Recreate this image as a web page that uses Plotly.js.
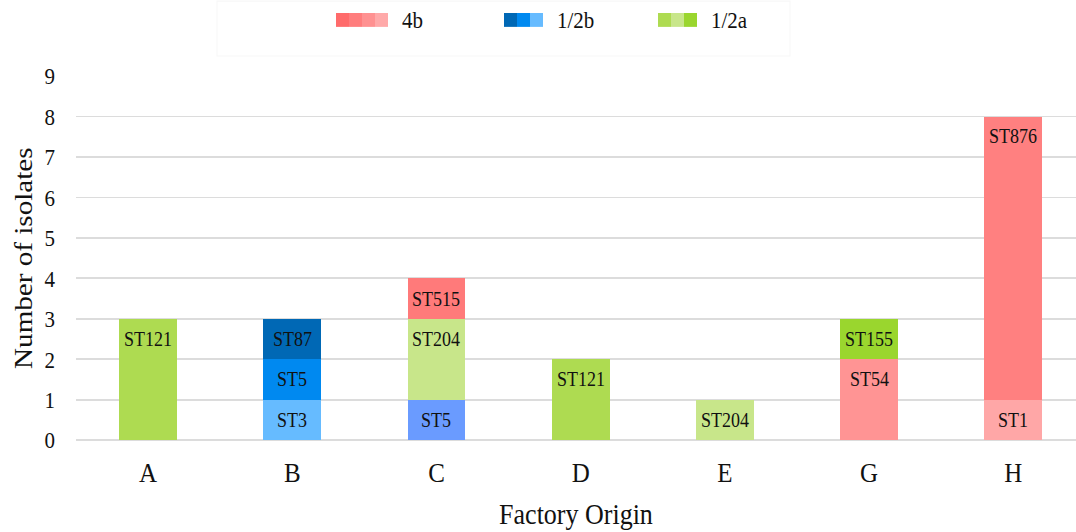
<!DOCTYPE html>
<html>
<head>
<meta charset="utf-8">
<script src="https://cdn.plot.ly/plotly-3.0.1.min.js"></script>
<style>
  html, body { margin: 0; padding: 0; background: #fff; }
  #wrap { width: 1076px; height: 532px; overflow: hidden; }
  /* the chart is laid out a little shorter and stretched vertically */
  #chart { width: 1076px; height: 475px; transform: scaleY(1.12); transform-origin: 0 0; }
</style>
</head>
<body>
<div id="wrap"><div id="chart"></div></div>
<script>
// Factories and stacked sequence-type counts, bottom layer first
const factories = ['A', 'B', 'C', 'D', 'E', 'G', 'H'];

const layer1Counts = [3, 1, 1, 2, 1, 2, 1];
const layer1Types  = ['ST121', 'ST3', 'ST5', 'ST121', 'ST204', 'ST54', 'ST1'];

const layer2Counts = [null, 1, 2, null, null, 1, 7];
const layer2Types  = ['', 'ST5', 'ST204', '', '', 'ST155', 'ST876'];

const layer3Counts = [null, 1, 1, null, null, null, null];
const layer3Types  = ['', 'ST87', 'ST515', '', '', '', ''];

// Serotype groups shown in the key
const serotypes = ['4b', '1/2b', '1/2a'];

// Fill colours per segment
const layer1Colors = ['#AEDB51', '#66BBFF', '#6A9BFF', '#AEDB51', '#C8E68A', '#FF9494', '#FFA7A7'];
const layer2Colors = ['#FFFFFF', '#0089F0', '#C8E68A', '#FFFFFF', '#FFFFFF', '#9AD62E', '#FF8080'];
const layer3Colors = ['#FFFFFF', '#0068B5', '#FF7A7A', '#FFFFFF', '#FFFFFF', '#FFFFFF', '#FFFFFF'];
const keyColors = [
  ['#FF6B6B', '#FF7D7D', '#FF9191', '#FFA9A9'],
  ['#0068B5', '#0089F0', '#66BBFF'],
  ['#AEDB51', '#C8E68A', '#9AD62E']
];

const layers = [
  { counts: layer1Counts, types: layer1Types, colors: layer1Colors },
  { counts: layer2Counts, types: layer2Types, colors: layer2Colors },
  { counts: layer3Counts, types: layer3Types, colors: layer3Colors }
];

const serif = 'Liberation Serif, Times New Roman, serif';
const ink = '#111111';

const traces = layers.map((L, i) => ({
  type: 'bar',
  x: factories,
  y: L.counts,
  marker: { color: L.colors, line: { width: 0 } },
  hoverinfo: 'skip',
  showlegend: false,
  name: 'layer' + (i + 1)
}));

// Segment labels sit just below the top of each stacked segment
const annotations = [];
const running = factories.map(() => 0);
layers.forEach(L => {
  factories.forEach((f, j) => {
    const v = L.counts[j];
    if (v == null) return;
    running[j] += v;
    annotations.push({
      x: f, y: running[j], xref: 'x', yref: 'y',
      text: L.types[j], showarrow: false,
      yanchor: 'top', yshift: -6,
      font: { family: serif, size: 18, color: ink }
    });
  });
});

// Key: multi-tone swatches followed by the serotype name
const M = { l: 76, r: 0, t: 68, b: 82 };
const W = 1076, H = 475;
const pw = W - M.l - M.r, ph = H - M.t - M.b;
const px = v => (v - M.l) / pw;
const py = v => (H - M.b - v) / ph;

const keyStarts = [336, 504, 658];
const swatchW = 13;
const shapes = [];
// faint frame around the key
shapes.push({
  type: 'rect', xref: 'paper', yref: 'paper',
  x0: px(217), x1: px(790), y0: py(1), y1: py(50),
  line: { color: '#F7F7F7', width: 1 }, fillcolor: 'rgba(0,0,0,0)', layer: 'below'
});
serotypes.forEach((s, k) => {
  const x0 = keyStarts[k];
  keyColors[k].forEach((c, m) => {
    shapes.push({
      type: 'rect', xref: 'paper', yref: 'paper',
      x0: px(x0 + m * swatchW), x1: px(x0 + (m + 1) * swatchW),
      y0: py(24), y1: py(11.6),
      line: { width: 0 }, fillcolor: c
    });
  });
  annotations.push({
    xref: 'paper', yref: 'paper',
    x: px(x0 + keyColors[k].length * swatchW + 12), y: py(18),
    xanchor: 'left', yanchor: 'middle', showarrow: false,
    text: s, font: { family: serif, size: 21, color: ink }
  });
});

const layout = {
  width: W, height: H,
  margin: M,
  paper_bgcolor: '#fff', plot_bgcolor: '#fff',
  barmode: 'stack',
  bargap: 0.6,
  showlegend: false,
  font: { family: serif, color: ink },
  xaxis: {
    type: 'category',
    range: [-0.5, 6.435],
    showgrid: false, showline: false, zeroline: false,
    ticks: '',
    ticklabelstandoff: 11,
    tickfont: { family: serif, size: 25, color: ink },
    title: { text: 'Factory Origin', standoff: 15, font: { family: serif, size: 26, color: ink } },
    automargin: false,
    fixedrange: true
  },
  yaxis: {
    range: [0, 9],
    tickvals: [0, 1, 2, 3, 4, 5, 6, 7, 8, 9],
    showgrid: true, gridcolor: '#DCDCDC', gridwidth: 1.6,
    zeroline: true, zerolinecolor: '#DCDCDC', zerolinewidth: 1.6,
    showline: false,
    ticks: '',
    ticklabelstandoff: 20,
    tickfont: { family: serif, size: 21, color: ink },
    title: { text: 'Number of isolates', standoff: 4, font: { family: serif, size: 26, color: ink } },
    automargin: false,
    fixedrange: true
  },
  shapes: shapes,
  annotations: annotations
};

Plotly.newPlot('chart', traces, layout, { displayModeBar: false, staticPlot: true });
</script>
</body>
</html>
